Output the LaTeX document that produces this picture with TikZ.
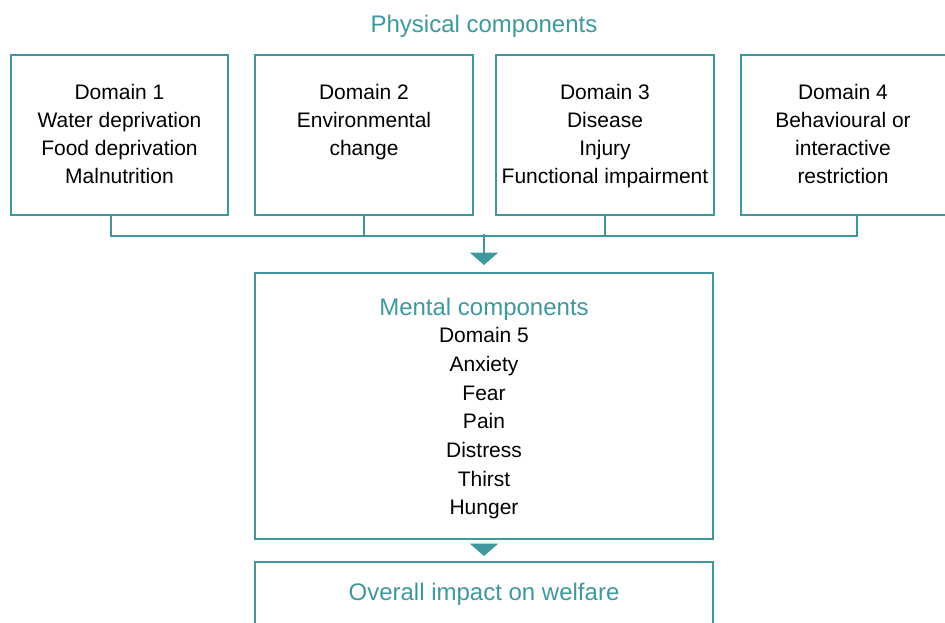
\documentclass[tikz,border=0pt]{standalone}
\usepackage{fontspec}
\setmainfont{Liberation Sans}
\usetikzlibrary{arrows.meta,positioning}
\definecolor{welfteal}{RGB}{62,152,158}

\tikzset{
  domainbox/.style={draw=welfteal, line width=1pt, anchor=north west, inner sep=0pt},
  boxtext/.style={anchor=north, align=center, inner sep=0pt, font=\fontsize{10.5}{14}\selectfont},
  listtext/.style={boxtext, font=\fontsize{10.5}{14.35}\selectfont},
  heading/.style={text=welfteal, anchor=base, inner sep=0pt, font=\fontsize{12}{14}\selectfont},
  link/.style={draw=welfteal, line width=1pt},
  flow/.style={link, -{Triangle[width=14pt,length=6.2pt]}},
}

\begin{document}
\begin{tikzpicture}[x=0.5pt,y=-0.5pt]
  \useasboundingbox (0,0) rectangle (945,622);

  % ----------------------------------------
  % physical domains
  % ----------------------------------------
  \node [heading] (phys) at (484,32) {Physical components};

  \node [domainbox, minimum width=108.5pt, minimum height=80pt] (d1) at (10,54) {};
  \node [domainbox, minimum width=109pt, minimum height=80pt] (d2) at (254,54) {};
  \node [domainbox, minimum width=109pt, minimum height=80pt] (d3) at (495,54) {};
  \node [domainbox, minimum width=106pt, minimum height=80pt] (d4) at (740,54) {};

  \node [boxtext] (d1text) at ([yshift=-15pt]d1.north) {Domain 1\\Water deprivation\\Food deprivation\\Malnutrition};
  \node [boxtext] (d2text) at ([yshift=-15pt]d2.north) {Domain 2\\Environmental\\change};
  \node [boxtext] (d3text) at ([yshift=-15pt]d3.north) {Domain 3\\Disease\\Injury\\Functional impairment};
  \node [boxtext] (d4text) at ([xshift=-2pt,yshift=-15pt]d4.north) {Domain 4\\Behavioural or\\interactive\\restriction};

  % collecting line under the four boxes
  \draw [link] ([xshift=-4.25pt]d1.south) -- ++(0,20) -| ([xshift=4.75pt]d4.south);
  \draw [link] (d2.south) -- ++(0,20);
  \draw [link] (d3.south) -- ++(0,20);

  % ----------------------------------------
  % mental domain
  % ----------------------------------------
  \node [domainbox, minimum width=229pt, minimum height=133pt] (mental) at (254,272) {};
  \node [heading] (mentalhead) at (mental.north |- 0,315) {Mental components};
  \node [listtext] (d5text) at (mental.north |- 0,327) {Domain 5\\Anxiety\\Fear\\Pain\\Distress\\Thirst\\Hunger};

  \coordinate (bus) at (mental.north |- 0,234);
  \draw [flow, shorten >=3.5pt] (bus) -- (mental.north);

  % ----------------------------------------
  % outcome
  % ----------------------------------------
  \node [domainbox, minimum width=229pt, minimum height=50pt] (overall) at (254,561) {};
  \node [heading] (impact) at (overall.north |- 0,600) {Overall impact on welfare};

  \draw [flow, shorten <=2.5pt, shorten >=2.5pt] (mental.south) -- (overall.north);
\end{tikzpicture}
\end{document}
